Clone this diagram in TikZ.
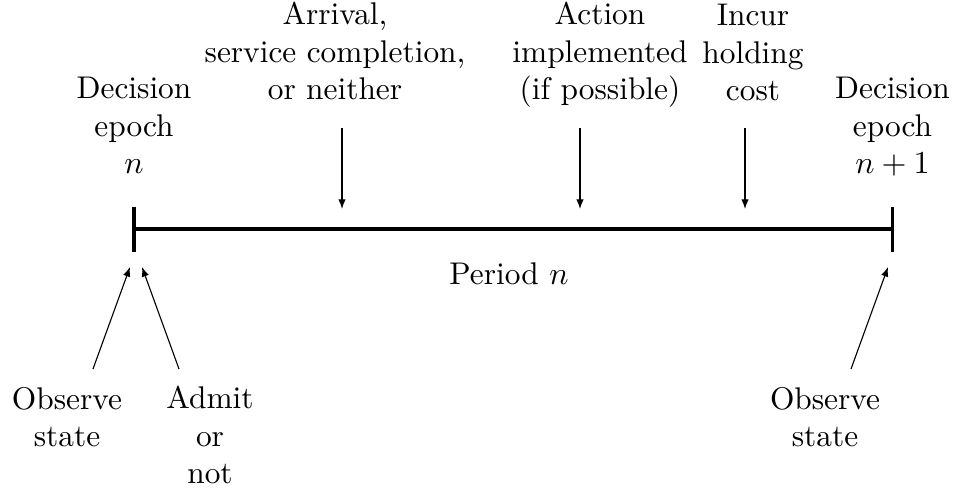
\documentclass[tikz,border=0pt]{standalone}
\usetikzlibrary{arrows.meta}
\begin{document}
\begin{tikzpicture}[x=0.3125pt,y=-0.3125pt,
  lbl/.style={align=center,inner sep=0pt,anchor=base,font=\fontsize{9.8}{11.75}\selectfont},
  tick/.style={line width=0.95pt},
  axis/.style={line width=0.95pt},
  arr/.style={line width=0.35pt,-{Latex[length=3pt,width=2.3pt]}}]
\useasboundingbox (0,0) rectangle (953,491);
% timeline
\coordinate (L) at (134,229);
\coordinate (R) at (892.5,229);
\coordinate (Lt) at (134,207);
\coordinate (Lb) at (134,252);
\coordinate (Rt) at (892.5,207);
\coordinate (Rb) at (892.5,252);
\draw[axis] (L) -- (R);
\draw[tick] (Lt) -- (Lb);
\draw[tick] (Rt) -- (Rb);
% labels (anchor = baseline of last line)
\node[lbl] (dec1) at (134,174) {Decision\\epoch\\$n$};
\node[lbl] (arr1) at (335,100) {Arrival,\\service completion,\\or neither};
\node[lbl] (act) at (600,100) {Action\\implemented\\(if possible)};
\node[lbl] (inc) at (753,101) {Incur\\holding\\cost};
\node[lbl] (dec2) at (892.5,174) {Decision\\epoch\\$n+1$};
\node[lbl] (per) at (509,285) {Period $n$};
\node[lbl] (obs1) at (67,447) {Observe\\state};
\node[lbl] (adm) at (210,484) {Admit\\or\\not};
\node[lbl] (obs2) at (825,447) {Observe\\state};
% arrow coordinates
\coordinate (a1s) at (342,128); \coordinate (a1e) at (342,209);
\coordinate (a2s) at (580,128); \coordinate (a2e) at (580,209);
\coordinate (a3s) at (745,128); \coordinate (a3e) at (745,209);
\coordinate (b1s) at (93,369);  \coordinate (b1e) at (130,267);
\coordinate (b2s) at (179,369); \coordinate (b2e) at (142,267);
\coordinate (b3s) at (851,369); \coordinate (b3e) at (888,267);
\draw[arr] (a1s) -- (a1e);
\draw[arr] (a2s) -- (a2e);
\draw[arr] (a3s) -- (a3e);
\draw[arr] (b1s) -- (b1e);
\draw[arr] (b2s) -- (b2e);
\draw[arr] (b3s) -- (b3e);
\end{tikzpicture}
\end{document}
